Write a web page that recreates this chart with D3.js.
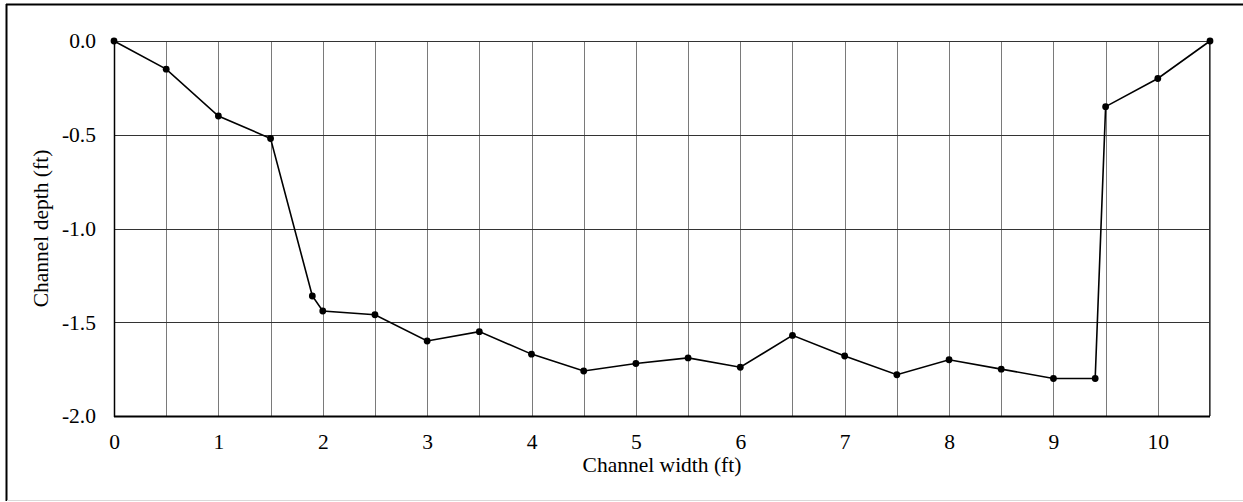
<!DOCTYPE html>
<html><head><meta charset="utf-8">
<script src="https://cdn.jsdelivr.net/npm/d3@7"></script>
<style>body{margin:0;background:#fff}svg{display:block}text{font-family:"Liberation Serif","Times New Roman",serif;fill:#000}</style>
</head><body>
<svg id="c" width="1243" height="502"></svg>
<script>
const widths = [0,0.5,1,1.5,1.9,2,2.5,3,3.5,4,4.5,5,5.5,6,6.5,7,7.5,8,8.5,9,9.4,9.5,10,10.5];
const depths = [0,-0.15,-0.4,-0.52,-1.36,-1.44,-1.46,-1.6,-1.55,-1.67,-1.76,-1.72,-1.69,-1.74,-1.57,-1.68,-1.78,-1.70,-1.75,-1.80,-1.80,-0.35,-0.2,0];
const xTicks = [0,1,2,3,4,5,6,7,8,9,10];
const yTicks = [0,-0.5,-1.0,-1.5,-2.0];
const yTickLabels = ["0.0","-0.5","-1.0","-1.5","-2.0"];
const xGrid = d3.range(0, 10.51, 0.5);
const yGrid = [0,-0.5,-1.0,-1.5];

const svg = d3.select("#c");
svg.append("line").attr("x1",6.5).attr("x2",6.5).attr("y1",4).attr("y2",501).attr("stroke","#000").attr("stroke-width",2);
svg.append("line").attr("x1",6).attr("x2",1243).attr("y1",4.5).attr("y2",4.5).attr("stroke","#000").attr("stroke-width",2);
svg.append("line").attr("x1",7).attr("x2",1243).attr("y1",500.5).attr("y2",500.5).attr("stroke","#d9d9d9").attr("stroke-width",1);

const L=114, R=1210, T=41, B=416;
const x = d3.scaleLinear().domain([0,10.5]).range([L,R]);
const y = d3.scaleLinear().domain([-2,0]).range([B,T]);

const g = svg.append("g");
g.selectAll(".vg").data(xGrid).join("line")
  .attr("x1",d=>Math.round(x(d))+0.5).attr("x2",d=>Math.round(x(d))+0.5)
  .attr("y1",T).attr("y2",B).attr("stroke","#7a7a7a").attr("stroke-width",1);
g.selectAll(".hg").data(yGrid).join("line")
  .attr("x1",L).attr("x2",R)
  .attr("y1",d=>Math.round(y(d))+0.5).attr("y2",d=>Math.round(y(d))+0.5)
  .attr("stroke","#333").attr("stroke-width",1);
g.append("rect").attr("x",L+0.5).attr("y",T+0.5).attr("width",R-L-1).attr("height",B-T)
  .attr("fill","none").attr("stroke","#333").attr("stroke-width",1);
g.append("line").attr("x1",L).attr("x2",R).attr("y1",B+0.5).attr("y2",B+0.5).attr("stroke","#000").attr("stroke-width",2);
g.append("line").attr("x1",L+0.5).attr("x2",L+0.5).attr("y1",T).attr("y2",B+1).attr("stroke","#000").attr("stroke-width",1.5);

const xa = svg.append("g").attr("transform",`translate(0,${B})`)
  .call(d3.axisBottom(x).tickValues(xTicks).tickSize(0).tickPadding(18).tickFormat(d3.format("d")));
xa.attr("font-family",null).attr("font-size",null);
xa.select(".domain").remove();
xa.selectAll("text").style("font-size","21.5px").style("font-family","'Liberation Serif'");
const ya = svg.append("g").attr("transform",`translate(${L},0)`)
  .call(d3.axisLeft(y).tickValues(yTicks).tickSize(0).tickPadding(18).tickFormat((d,i)=>yTickLabels[i]));
ya.attr("font-family",null).attr("font-size",null);
ya.select(".domain").remove();
ya.selectAll("text").style("font-size","21.5px").style("font-family","'Liberation Serif'");

const pts = widths.map((w,i)=>[w,depths[i]]);
svg.append("path").datum(pts)
  .attr("d", d3.line().x(d=>x(d[0])).y(d=>y(d[1])))
  .attr("fill","none").attr("stroke","#000").attr("stroke-width",1.6);
svg.selectAll(".pt").data(pts).join("circle")
  .attr("cx",d=>x(d[0])).attr("cy",d=>y(d[1])).attr("r",3.4).attr("fill","#000");

svg.append("text").attr("x",(L+R)/2).attr("y",472).attr("text-anchor","middle")
  .style("font-size","21.5px").text("Channel width (ft)");
svg.append("text").attr("transform",`translate(48,${(T+B)/2}) rotate(-90)`).attr("text-anchor","middle")
  .style("font-size","21.5px").text("Channel depth (ft)");
</script>
</body></html>
